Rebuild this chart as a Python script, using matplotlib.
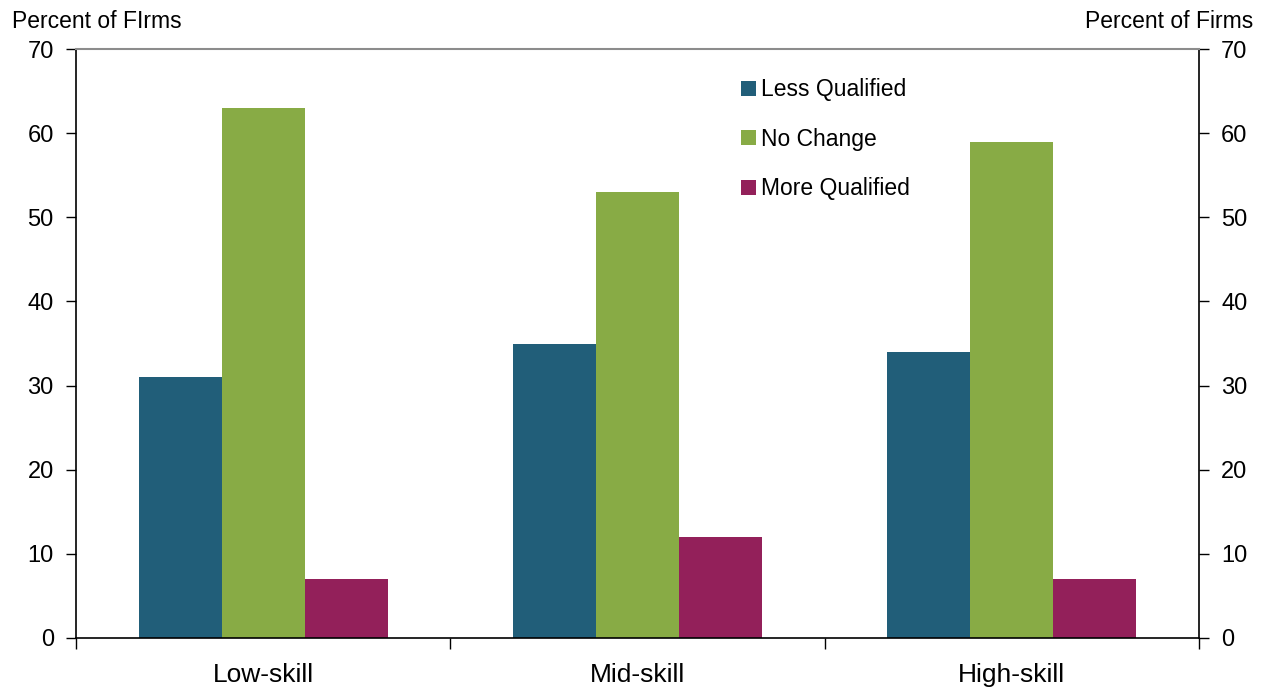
import numpy as np
import matplotlib.pyplot as plt

plt.rcParams['font.family'] = ['Liberation Sans', 'DejaVu Sans']

categories = ['Low-skill', 'Mid-skill', 'High-skill']
less_qualified = [31, 35, 34]
no_change = [63, 53, 59]
more_qualified = [7, 12, 7]
series_names = ['Less Qualified', 'No Change', 'More Qualified']
colors = ['#215E79', '#88AB45', '#93205A']
yticks = [0, 10, 20, 30, 40, 50, 60, 70]

fig = plt.figure(figsize=(12.65, 6.9), dpi=100)
ax = fig.add_axes([76/1265, 1-638/690, (1199-76)/1265, (638-49)/690])

x = np.arange(len(categories))
w = 0.222
for i, (vals, name, c) in enumerate(zip([less_qualified, no_change, more_qualified], series_names, colors)):
    ax.bar(x + (i-1)*w, vals, w, color=c, label=name)

ax.set_xlim(-0.5, 2.5)
ax.set_ylim(0, 70)
ax.set_yticks(yticks)
ax.tick_params(axis='y', which='both', left=True, right=True, labelleft=True, labelright=True,
               direction='out', length=7, width=1, labelsize=17, pad=9)
ax.set_xticks(x)
ax.set_xticklabels(categories, fontsize=19)
ax.tick_params(axis='x', length=0, pad=18)
ax.set_xticks([-0.5, 0.5, 1.5, 2.5], minor=True)
ax.tick_params(axis='x', which='minor', length=8, width=1, direction='out')

for s in ['left', 'right', 'bottom']:
    ax.spines[s].set_color('black')
    ax.spines[s].set_linewidth(1.2)
ax.spines['top'].set_color('#8c8c8c')
ax.spines['top'].set_linewidth(1.5)

fig.text(12/1265, 1-22/690, 'Percent of FIrms', fontsize=16.5, ha='left', va='center')
fig.text(1253/1265, 1-22/690, 'Percent of Firms', fontsize=16.5, ha='right', va='center')

ax.legend(loc='upper left', bbox_to_anchor=(730/1265, 1-67/690), bbox_transform=fig.transFigure,
          frameon=False, fontsize=16.5, handlelength=0.62, handleheight=0.62,
          handletextpad=0.25, labelspacing=1.15, borderpad=0)

fig.savefig('out.png', dpi=100)
